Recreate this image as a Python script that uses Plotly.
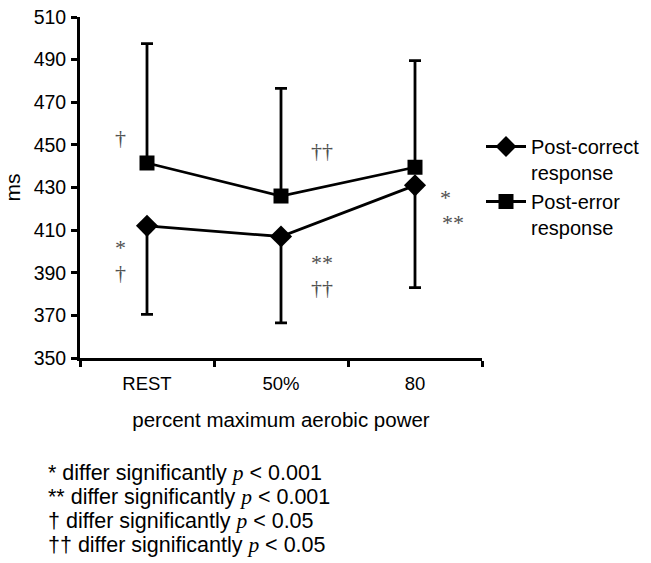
import plotly.graph_objects as go

categories = ["REST", "50%", "80"]
post_correct = [412, 407, 431]
post_correct_err = [41.5, 40.5, 48]
post_error = [441.5, 426, 439.5]
post_error_err = [56, 50.5, 50]
y_ticks = [350, 370, 390, 410, 430, 450, 470, 490, 510]

fig = go.Figure()
fig.add_trace(go.Scatter(
    x=categories, y=post_error, mode="lines+markers", name="Post-error<br>response",
    line=dict(color="black", width=2.8),
    marker=dict(symbol="square", size=15, color="black"),
    error_y=dict(type="data", array=post_error_err, arrayminus=[0, 0, 0],
                 color="black", thickness=2.8, width=6),
))
fig.add_trace(go.Scatter(
    x=categories, y=post_correct, mode="lines+markers", name="Post-correct<br>response",
    line=dict(color="black", width=2.8),
    marker=dict(symbol="diamond", size=17, color="black"),
    error_y=dict(type="data", array=[0, 0, 0], arrayminus=post_correct_err,
                 color="black", thickness=2.8, width=6),
))

font_main = "Liberation Sans, Arial, sans-serif"
serif = "Liberation Serif, Times New Roman, serif"

L, R, T, B = 80, 169, 17, 205
W, H = 651, 563
plot_w = W - L - R
plot_h = H - T - B

fig.update_layout(
    width=W, height=H,
    margin=dict(l=L, r=R, t=T, b=B, autoexpand=False),
    paper_bgcolor="white", plot_bgcolor="white",
    font=dict(family=font_main, size=19, color="black"),
    showlegend=True,
    legend=dict(x=(481 - L) / plot_w, y=(H - B - 127) / plot_h, xanchor="left", yanchor="top",
                traceorder="reversed", font=dict(size=20), valign="top",
                itemwidth=40, tracegroupgap=6, bgcolor="rgba(0,0,0,0)"),
    xaxis=dict(type="category", range=[-0.5, 2.5], showline=True, linecolor="black",
               linewidth=2.8, ticks="outside", tickson="boundaries", ticklen=6,
               tickwidth=2.8, tickcolor="black", showgrid=False, zeroline=False,
               ticklabelstandoff=7, automargin=False,
               title=dict(text="percent maximum aerobic power", font=dict(size=20.5), standoff=20),
               tickfont=dict(size=18.5)),
    yaxis=dict(range=[350, 510], tickvals=y_ticks, showline=True, linecolor="black",
               linewidth=2.8, ticks="outside", ticklen=6, tickwidth=2.8, tickcolor="black",
               showgrid=False, zeroline=False, tickfont=dict(size=19.5), ticklabelstandoff=1,
               automargin=False,
               title=dict(text="ms", font=dict(size=21), standoff=8)),
)

anns = [
    ("†", 120, 137), ("*", 120, 247), ("†", 120, 272),
    ("††", 322, 150), ("**", 322, 262), ("††", 322, 287),
    ("*", 445, 197), ("**", 453, 222),
]
for t, px, py in anns:
    fig.add_annotation(text=t, x=(px - L) / plot_w, y=(H - B - py) / plot_h,
                       xref="paper", yref="paper",
                       showarrow=False, font=dict(family=serif, size=22, color="#505050"),
                       xanchor="center", yanchor="middle")

p_i = "<span style='font-family:Liberation Serif'><i>p</i></span>"
footnotes = [
    "* differ significantly " + p_i + " &lt; 0.001",
    "** differ significantly " + p_i + " &lt; 0.001",
    "† differ significantly " + p_i + " &lt; 0.05",
    "†† differ significantly " + p_i + " &lt; 0.05",
]
for i, txt in enumerate(footnotes):
    fig.add_annotation(text=txt, x=(46 - L) / plot_w, y=(H - B - (473 + 24 * i)) / plot_h,
                       xref="paper", yref="paper", showarrow=False, xanchor="left",
                       yanchor="middle", font=dict(size=21.5, color="black"))

fig.write_html("out.html")
